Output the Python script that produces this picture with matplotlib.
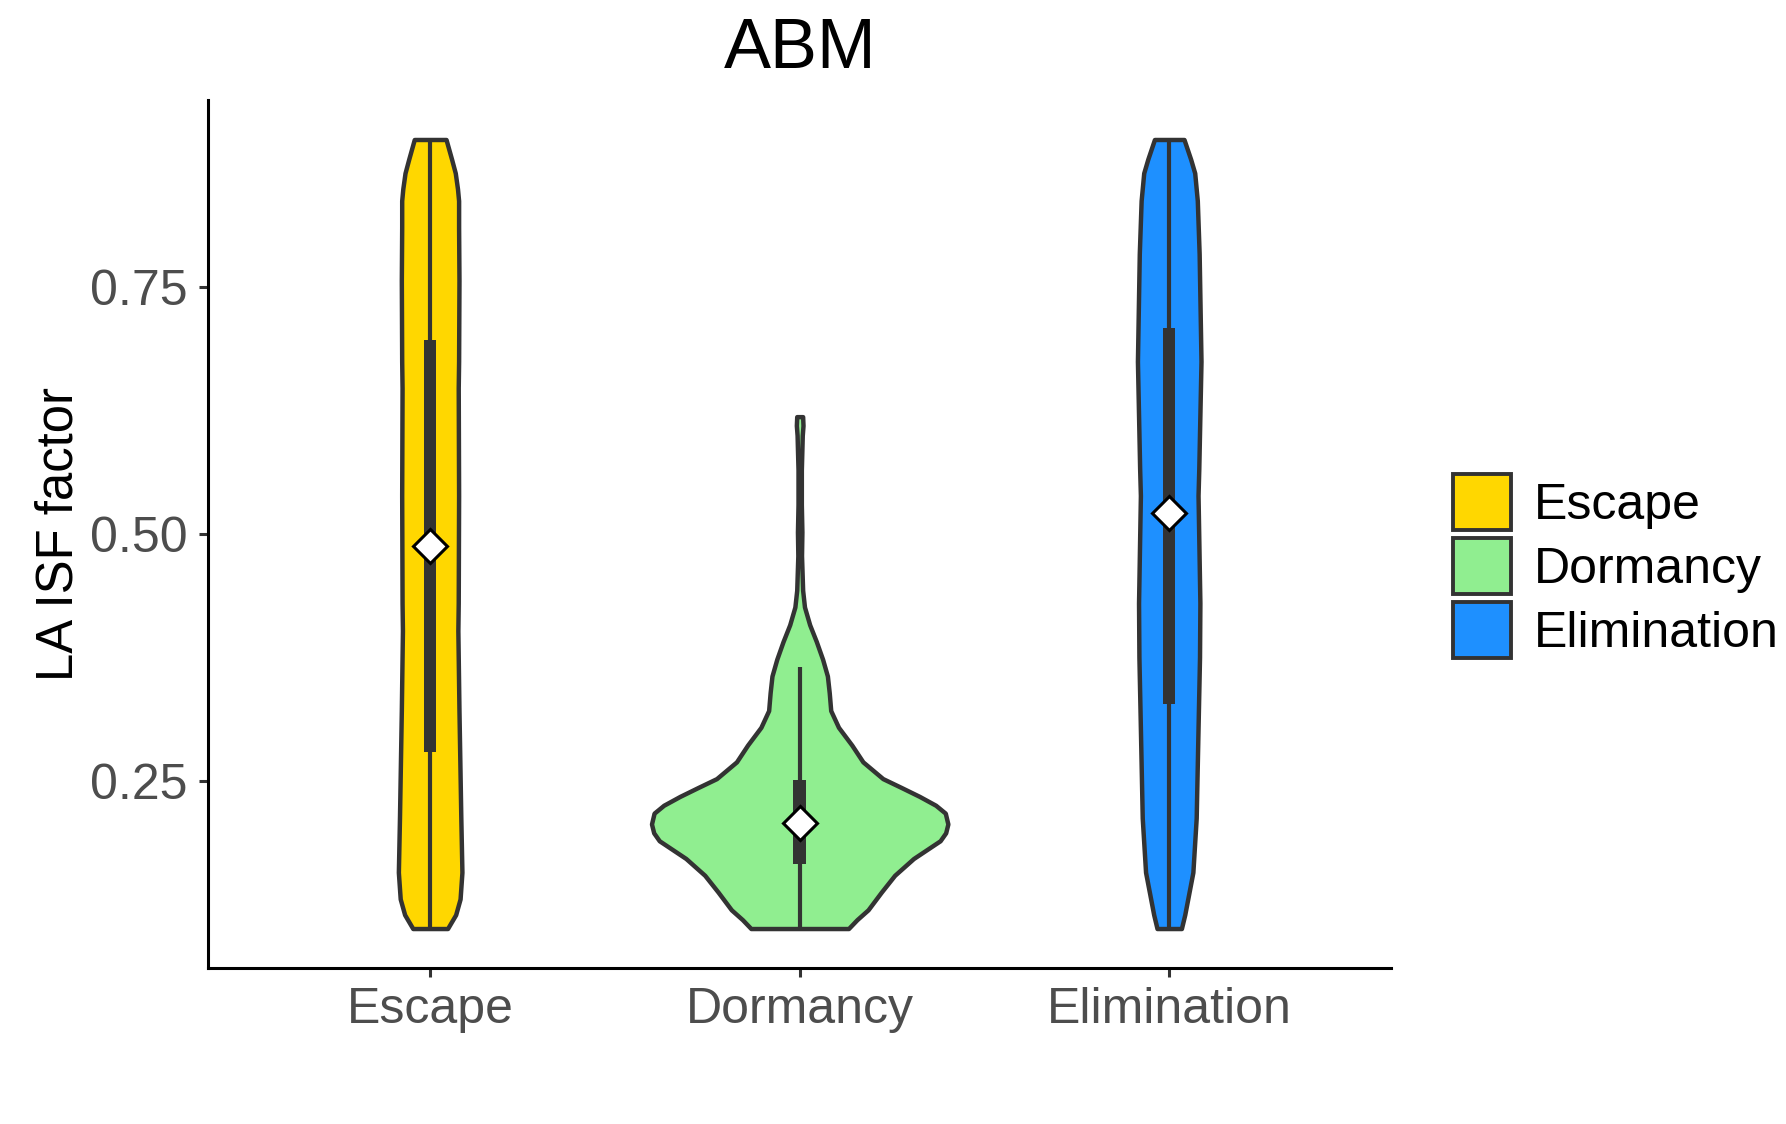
import numpy as np
import matplotlib
matplotlib.use('Agg')
import matplotlib.pyplot as plt
from matplotlib.patches import Patch, Rectangle

plt.rcParams['font.family'] = ['Liberation Sans', 'DejaVu Sans']

# categories and colours
categories = ['Escape', 'Dormancy', 'Elimination']
fill_colors = ['#FFD700', '#90EE90', '#1E90FF']

# violin outlines: y value and half width (x units)
escape_y = [0.900, 0.880, 0.866, 0.850, 0.838, 0.811, 0.757, 0.675, 0.648, 0.539,
            0.430, 0.402, 0.321, 0.212, 0.157, 0.130, 0.114, 0.100]
escape_hw = [0.043, 0.058, 0.068, 0.074, 0.077, 0.077, 0.078, 0.077, 0.076, 0.077,
             0.076, 0.075, 0.078, 0.083, 0.086, 0.081, 0.069, 0.047]

dormancy_y = [0.619, 0.610, 0.600, 0.565, 0.530, 0.502, 0.478, 0.443, 0.426, 0.408,
              0.391, 0.373, 0.356, 0.339, 0.321, 0.304, 0.286, 0.269, 0.252,
              0.243, 0.234, 0.225, 0.217, 0.206, 0.197, 0.189, 0.171, 0.154,
              0.137, 0.119, 0.109, 0.100]
dormancy_hw = [0.008, 0.009, 0.007, 0.0045, 0.0045, 0.006, 0.005, 0.008, 0.013, 0.027,
               0.045, 0.062, 0.075, 0.080, 0.084, 0.105, 0.141, 0.171, 0.225,
               0.275, 0.324, 0.368, 0.394, 0.401, 0.395, 0.380, 0.308, 0.257,
               0.221, 0.185, 0.155, 0.132]

elimination_y = [0.900, 0.880, 0.866, 0.838, 0.784, 0.675, 0.566, 0.539, 0.430,
                 0.375, 0.321, 0.212, 0.157, 0.114, 0.100]
elimination_hw = [0.040, 0.058, 0.069, 0.076, 0.081, 0.086, 0.080, 0.078, 0.083,
                  0.082, 0.079, 0.073, 0.064, 0.042, 0.033]

# box summaries
q1 = [0.279, 0.165, 0.328]
q3 = [0.697, 0.251, 0.709]
whisk_lo = [0.100, 0.100, 0.100]
whisk_hi = [0.900, 0.365, 0.900]
means = [0.488, 0.207, 0.521]

yticks = [0.25, 0.50, 0.75]
ytick_labels = ['0.25', '0.50', '0.75']

profiles = [(escape_y, escape_hw), (dormancy_y, dormancy_hw),
            (elimination_y, elimination_hw)]

fig = plt.figure(figsize=(8.93, 5.62), dpi=200)
ax = fig.add_axes([0.1167, 0.1388, 0.6621, 0.7722])

outline = '#333333'
for i, (yy, hw) in enumerate(profiles):
    yy = np.array(yy)
    hw = np.array(hw)
    ax.fill_betweenx(yy, i - hw, i + hw, facecolor=fill_colors[i],
                     edgecolor=outline, linewidth=1.6, joinstyle='round', zorder=2)
    ax.vlines(i, whisk_lo[i], whisk_hi[i], color=outline, linewidth=1.5, zorder=3)
    ax.add_patch(Rectangle((i - 0.017, q1[i]), 0.034, q3[i] - q1[i],
                           facecolor=outline, edgecolor='none', zorder=4))
    ax.plot(i, means[i], marker='D', markersize=8.5, markerfacecolor='white',
            markeredgecolor='black', markeredgewidth=1.1, zorder=5)

ax.set_xlim(-0.6, 2.6)
ax.set_ylim(0.06, 0.94)
ax.set_xticks(range(len(categories)))
ax.set_xticklabels(categories)
ax.set_yticks(yticks)
ax.set_yticklabels(ytick_labels)
ax.tick_params(axis='both', labelsize=18, labelcolor='#4D4D4D', color='#333333',
               length=3.2, width=1.1)
ax.tick_params(axis='y', pad=4.3)
ax.tick_params(axis='x', pad=3.5)

for s in ['top', 'right']:
    ax.spines[s].set_visible(False)
for s in ['left', 'bottom']:
    ax.spines[s].set_linewidth(1.1)
    ax.spines[s].set_color('black')

ax.set_ylabel('LA ISF factor', fontsize=18.3, color='black', labelpad=2.5)
ax.set_title('ABM', fontsize=25.4, pad=11.4)

handles = [Patch(facecolor=c, edgecolor=outline, linewidth=1.4) for c in fill_colors]
fig.legend(handles, categories, loc='center left', bbox_to_anchor=(0.8135, 0.4964),
           frameon=False, fontsize=18, handlelength=1.16, handleheight=1.35,
           labelspacing=0.16, handletextpad=0.45, borderpad=0, borderaxespad=0)

fig.savefig('out.png', dpi=200)
